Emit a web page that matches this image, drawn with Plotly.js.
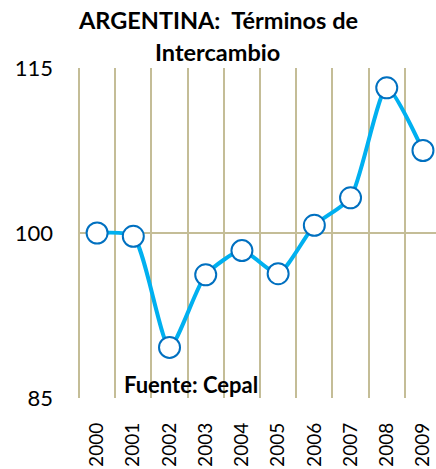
<!DOCTYPE html>
<html><head><meta charset="utf-8">
<script src="https://cdn.plot.ly/plotly-3.0.1.min.js"></script>
<style>html,body{margin:0;padding:0;background:#fff}</style>
</head><body><div id="chart" style="width:436px;height:469px"></div>
<script>
const years = ["2000","2001","2002","2003","2004","2005","2006","2007","2008","2009"];
const values = [100.0, 99.7, 89.6, 96.2, 98.4, 96.3, 100.7, 103.2, 113.2, 107.5];
const yTicks = [85, 100, 115];
const titleLines = ["ARGENTINA:  Términos de", "Intercambio"];
const source = "Fuente: Cepal";
const grid = "#c4bd97";
const font = "Lato, 'Open Sans', sans-serif";

Plotly.newPlot("chart", [{
  x: years, y: values, type: "scatter", mode: "lines+markers",
  line: {color: "#00b0f0", width: 4, shape: "spline", smoothing: 0.6},
  marker: {size: 21, color: "#ffffff", line: {color: "#0070c0", width: 2}},
  hoverinfo: "skip"
}], {
  width: 436, height: 469,
  margin: {l: 79, r: 0, t: 68, b: 71},
  paper_bgcolor: "#fff", plot_bgcolor: "#fff",
  showlegend: false,
  xaxis: {type: "category", range: [-0.5, 9.36], tickson: "boundaries", showgrid: true, gridcolor: grid, gridwidth: 2,
          ticks: "", tickangle: -90, ticklabelstandoff: 20, tickfont: {family: font, size: 19, color: "#000"},
          showline: false, zeroline: false, fixedrange: true},
  yaxis: {range: [85, 115], tickvals: yTicks, ticktext: yTicks.map(String), showgrid: false, zeroline: false,
          showline: false, ticks: "", ticklabelstandoff: 25, tickfont: {family: font, size: 22, color: "#000"}, fixedrange: true},
  shapes: [
    {type: "line", xref: "paper", x0: 0, x1: 1, yref: "y", y0: 100, y1: 100, line: {color: grid, width: 2}, layer: "below"},
    {type: "line", xref: "paper", x0: 0, x1: 0, yref: "paper", y0: 0, y1: 1, line: {color: grid, width: 2}, layer: "below"}
  ],
  annotations: [
    {text: "<b>" + titleLines[0] + "</b>", xref: "paper", yref: "paper", x: 0.389, y: 1.145, xanchor: "center", yanchor: "middle",
     showarrow: false, font: {family: font, size: 23.5, color: "#000"}},
    {text: "<b>" + titleLines[1] + "</b>", xref: "paper", yref: "paper", x: 0.389, y: 1.048, xanchor: "center", yanchor: "middle",
     showarrow: false, font: {family: font, size: 23.5, color: "#000"}},
    {text: "<b>" + source + "</b>", xref: "paper", yref: "paper", x: 0.12, y: 0.04, xanchor: "left", yanchor: "middle",
     showarrow: false, font: {family: font, size: 22, color: "#000"}}
  ]
}, {displayModeBar: false, staticPlot: true});
</script></body></html>
